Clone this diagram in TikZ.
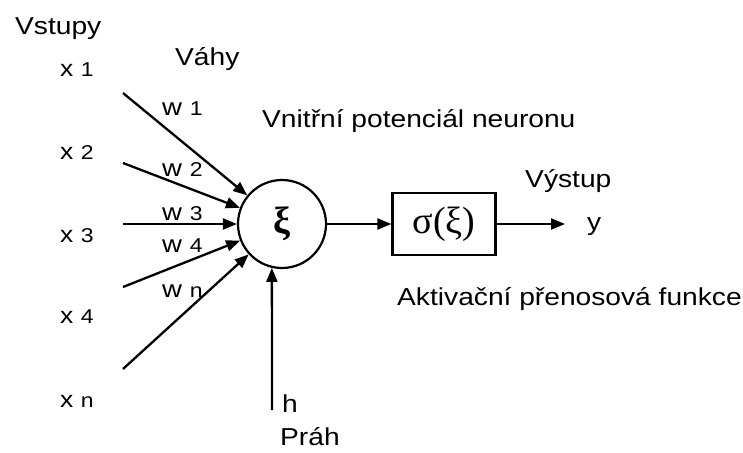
\documentclass[tikz,border=0pt]{standalone}
\usepackage{fontspec}
\setmainfont{Liberation Sans}[FakeStretch=1.15]
\newfontfamily\greekfont{Liberation Serif}
\usetikzlibrary{arrows.meta}
\newcommand\lbl[3]{{\fontsize{#1}{#1}\selectfont #2\ }{\fontsize{20}{20}\selectfont #3}}
\begin{document}
\begin{tikzpicture}[x=1pt,y=-1pt,
  txt/.style={anchor=base west, inner sep=0pt, font=\fontsize{24.5}{24.5}\selectfont},
  lab/.style={anchor=base west, inner sep=0pt},
  arr/.style={line width=2.3pt, -{Triangle[length=14pt,width=11pt]}},
  neuron/.style={circle, draw, line width=2.2pt, minimum size=88pt, inner sep=0pt, font=\greekfont\bfseries\fontsize{38}{38}\selectfont},
  fbox/.style={draw, line width=2.2pt, minimum width=103pt, minimum height=62pt, inner sep=0pt, font=\greekfont\fontsize{38}{38}\selectfont}]
\useasboundingbox (0,0) rectangle (743,452);
\node[neuron] (n) at (282,224) {ξ};
\node[fbox] (f) at (444,224) {σ(ξ)};
% headings
\node[txt] (vstupy) at (15,35) {Vstupy};
\node[txt] (vahy) at (175,65) {Váhy};
\node[txt] (vnitrni) at (262,127) {Vnitřní potenciál neuronu};
\node[txt] (vystup) at (525,187) {Výstup};
\node[txt] (y) at (587,230) {y};
\node[txt] (aktiv) at (397,305) {Aktivační přenosová funkce};
\node[txt] (h) at (282,412) {h};
\node[txt] (prah) at (280,445) {Práh};
% inputs
\node[lab] (x1) at (60,76) {\lbl{23}{x}{1}};
\node[lab] (x2) at (60,159) {\lbl{23}{x}{2}};
\node[lab] (x3) at (60,242) {\lbl{23}{x}{3}};
\node[lab] (x4) at (60,323) {\lbl{23}{x}{4}};
\node[lab] (xn) at (60,407) {\lbl{23}{x}{n}};
% weights
\node[lab] (w1) at (162,115) {\lbl{24}{w}{1}};
\node[lab] (w2) at (162,176) {\lbl{24}{w}{2}};
\node[lab] (w3) at (162,220) {\lbl{24}{w}{3}};
\node[lab] (w4) at (162,252) {\lbl{24}{w}{4}};
\node[lab] (wn) at (162,297) {\lbl{24}{w}{n}};
% connectors
\coordinate (s1) at (123,93);
\coordinate (s2) at (123,163);
\coordinate (s3) at (123,224);
\coordinate (s4) at (123,287);
\coordinate (s5) at (123,369);
\coordinate (t) at (272,410);
\coordinate (o) at (565,224);
\draw[arr] (s1) -- (n);
\draw[arr] (s2) -- (n);
\draw[arr] (s3) -- (n);
\draw[arr] (s4) -- (n);
\draw[arr] (s5) -- (n);
\draw[arr] (t) -- (n.257);
\draw[arr] (n) -- (f);
\draw[arr] (f) -- (o);
\end{tikzpicture}
\end{document}
